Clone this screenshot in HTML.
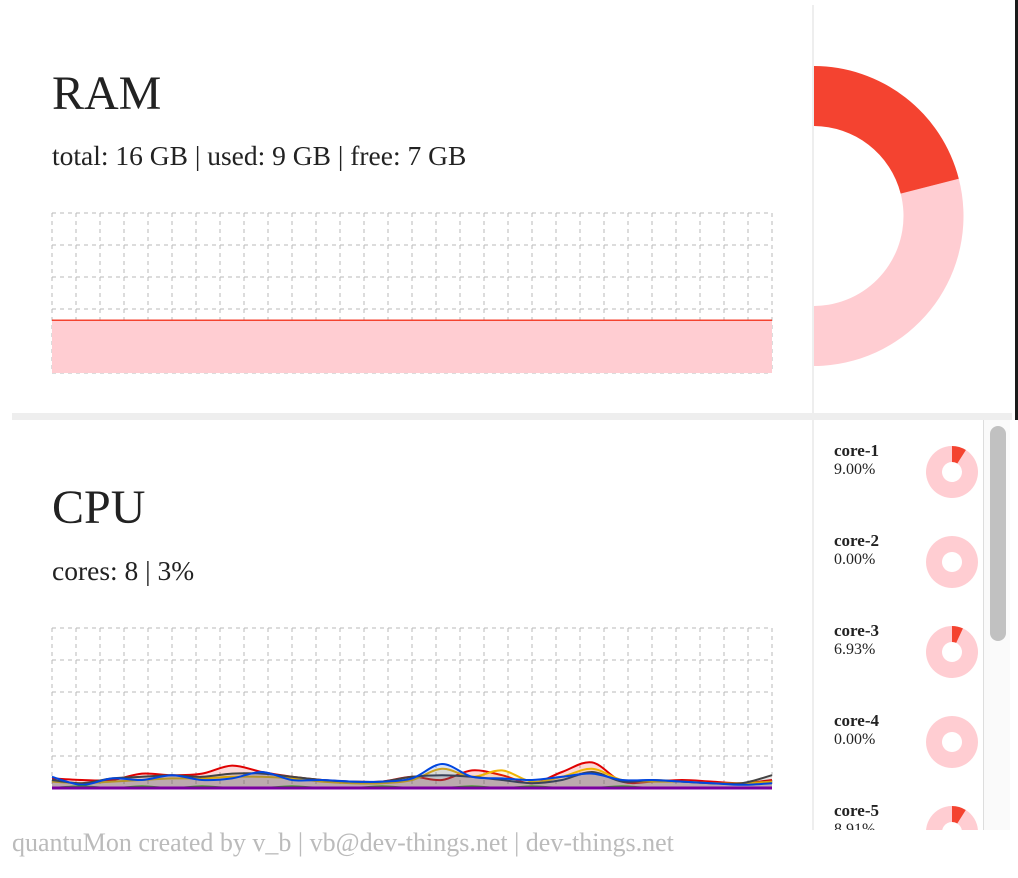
<!DOCTYPE html>
<html><head><meta charset="utf-8">
<style>
body{margin:0;width:1018px;height:878px;background:#fff;overflow:hidden;font-family:"Liberation Serif",serif;color:#222;position:relative}
.abs{position:absolute;white-space:nowrap}
</style></head><body>
<div class="abs" style="left:1015px;top:0;width:3px;height:420px;background:#1a1a1a"></div>
<div class="abs" style="left:52px;top:66px;font-size:48px">RAM</div>
<div class="abs" style="left:52px;top:140px;font-size:27.5px">total: 16 GB | used: 9 GB | free: 7 GB</div>
<div class="abs" style="left:812px;top:5px;width:2px;height:408px;background:#eee"></div>
<div class="abs" style="left:12px;top:413px;width:1000px;height:7px;background:#eee"></div>
<div class="abs" style="left:52px;top:480px;font-size:48px">CPU</div>
<div class="abs" style="left:52px;top:555px;font-size:27.5px">cores: 8 | 3%</div>
<div class="abs" style="left:812px;top:420px;width:2px;height:410px;background:#eee"></div>
<div class="abs" style="left:983px;top:420px;width:1px;height:410px;background:#ddd"></div>
<div class="abs" style="left:984px;top:420px;width:26px;height:410px;background:#fafafa"></div>
<div class="abs" style="left:990px;top:426px;width:16px;height:215px;border-radius:8px;background:#c1c1c1"></div>
<div class="abs" style="left:12px;top:828px;font-size:26px;color:#bbb">quantuMon created by v_b | vb@dev-things.net | dev-things.net</div>
<svg class="abs" style="left:0;top:0" width="1018" height="878" id="svg"></svg>
<script>
const ramUsedFraction = 0.21;
const ramHistory = [33,33,33,33,33,33,33,33,33,33,33,33,33,33,33,33,33,33,33,33,33,33,33,33,33];
const coreNames = ['core-1','core-2','core-3','core-4','core-5'];
const coreValues = [9.00,0.00,6.93,0.00,8.91];
const cpuRed =    [6,5,5,9,8,9,14,10,7,5,4,4,7,5,11,8,3,10,16,4,4,5,4,3,5];
const cpuYellow = [4,3,4,5,6,6,7,7,6,4,3,3,5,12,7,11,4,7,12,5,4,4,3,3,4];
const cpuDark =   [5,3,6,7,8,7,9,9,7,5,4,4,7,8,7,5,3,5,10,4,5,4,3,3,8];
const cpuBlue =   [7,2,6,5,8,5,6,10,5,5,4,4,6,15,7,6,5,7,9,5,5,4,3,2,3];
const cpuGreen =  [0,1,0,1,0,1,0,0,1,0,0,1,0,0,1,0,1,0,0,1,0,0,0,0,0];
const cpuPurple = [0,0,0,0,0,0,0,0,0,0,0,0,0,0,0,0,0,0,0,0,0,0,0,0,0];
const NS='http://www.w3.org/2000/svg';
const svg=document.getElementById('svg');
function mk(tag,attrs,parent){const e=document.createElementNS(NS,tag);for(const k in attrs)e.setAttribute(k,attrs[k]);(parent||svg).appendChild(e);return e;}
function arc(cx,cy,ro,ri,a0,a1){
 const p=(r,a)=>[cx+r*Math.sin(a),cy-r*Math.cos(a)];
 if(a1-a0>=2*Math.PI-1e-6){a1=a0+2*Math.PI-1e-4;}
 const l=(a1-a0)>Math.PI?1:0;
 const [x0,y0]=p(ro,a0),[x1,y1]=p(ro,a1),[x2,y2]=p(ri,a1),[x3,y3]=p(ri,a0);
 return `M${x0},${y0}A${ro},${ro} 0 ${l} 1 ${x1},${y1}L${x2},${y2}A${ri},${ri} 0 ${l} 0 ${x3},${y3}Z`;
}
function grid(x0,y0,w,h,name){
 const g=mk('g',{});
 
 
 for(let i=0;i<=30;i++){const x=x0+i*w/30;const l=mk('line',{x1:x,y1:y0,x2:x,y2:y0+h,stroke:'#b8b8b8','stroke-dasharray':'4,4'},g);}
 for(let j=0;j<=5;j++){const y=y0+j*h/5;const l=mk('line',{x1:x0,y1:y,x2:x0+w,y2:y,stroke:'#b8b8b8','stroke-dasharray':'4,4'},g);}
}
function smooth(pts){
 let d=`M${pts[0][0]},${pts[0][1]}`;
 for(let i=0;i<pts.length-1;i++){
  const p0=pts[Math.max(0,i-1)],p1=pts[i],p2=pts[i+1],p3=pts[Math.min(pts.length-1,i+2)];
  d+=`C${p1[0]+(p2[0]-p0[0])/6},${p1[1]+(p2[1]-p0[1])/6} ${p2[0]-(p3[0]-p1[0])/6},${p2[1]-(p3[1]-p1[1])/6} ${p2[0]},${p2[1]}`;
 }
 return d;
}
const rcx=813.5,rcy=216;
const ramClip=mk('clipPath',{id:'rc'});mk('rect',{x:814,y:0,width:200,height:412},ramClip);
const rg=mk('g',{'clip-path':'url(#rc)'});
const ramFree=mk('path',{d:arc(rcx,rcy,150,90,2*Math.PI*ramUsedFraction,2*Math.PI),fill:'#ffcdd2'},rg);

const ramUsed=mk('path',{d:arc(rcx,rcy,150,90,0,2*Math.PI*ramUsedFraction),fill:'#f44330'},rg);

const RX=52,RW=720,RY=213,RH=160;
const rx=i=>RX+i*RW/(ramHistory.length-1), ry=v=>RY+RH-v/100*RH;
const ramPts=ramHistory.map((v,i)=>[rx(i),ry(v)]);
grid(RX,RY,RW,RH,'ram-grid');
const ramArea=mk('path',{d:smooth(ramPts)+`L${RX+RW},${RY+RH}L${RX},${RY+RH}Z`,fill:'#ffcdd2'});

const ramLine=mk('path',{d:smooth(ramPts),fill:'none',stroke:'#f44330','stroke-width':1.5});

const CX=52,CW=720,CY=628,CH=160;
grid(CX,CY,CW,CH,'cpu-grid');
const cx=i=>CX+i*CW/(cpuRed.length-1), cy=v=>CY+CH-v/100*CH;
const series=[[cpuRed,'#e00000','cpu-line-red'],[cpuYellow,'#f0b400','cpu-line-yellow'],[cpuDark,'#444','cpu-line-dark'],[cpuBlue,'#0046e0','cpu-line-blue'],[cpuGreen,'#3a9a20','cpu-line-green'],[cpuPurple,'#7a00a0','cpu-line-purple']];
series.forEach(([vals,col,name])=>{
 const pts=vals.map((v,i)=>[cx(i),cy(v)]);
 const a=mk('path',{d:smooth(pts)+`L${CX+CW},${CY+CH}L${CX},${CY+CH}Z`,fill:col,'fill-opacity':0.15});
 
 const l=mk('path',{d:smooth(pts),fill:'none',stroke:col,'stroke-width':name.includes('purple')?3:2});
 
});
const cclip=mk('clipPath',{id:'cc'});mk('rect',{x:814,y:420,width:169,height:410},cclip);
const cg=mk('g',{'clip-path':'url(#cc)'});
coreNames.forEach((n,i)=>{
 const y=450+i*90;
 const t=mk('text',{x:834,y:y+6,'font-size':17,'font-weight':'bold','font-family':'Liberation Serif,serif',fill:'#222'},cg);t.textContent=n;
 
 const p=mk('text',{x:834,y:y+24,'font-size':16,'font-family':'Liberation Serif,serif',fill:'#222'},cg);p.textContent=coreValues[i].toFixed(2)+'%';
 
 const f=coreValues[i]/100;
 const b=mk('path',{d:arc(952,y+22,26,10,2*Math.PI*f,2*Math.PI),fill:'#ffcdd2'},cg);
 
 if(f>0){const u=mk('path',{d:arc(952,y+22,26,10,0,2*Math.PI*f),fill:'#f44330'},cg);
 }
});
</script>
</body></html>
